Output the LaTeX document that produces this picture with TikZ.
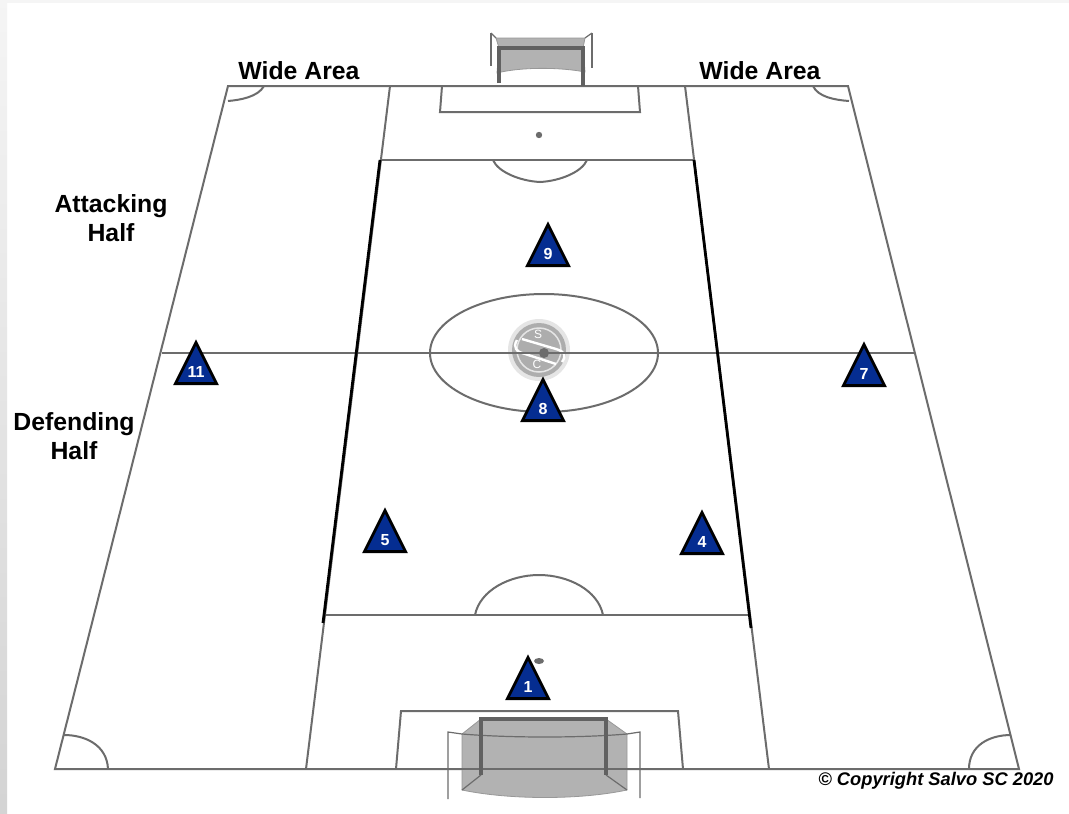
\documentclass[tikz,border=0pt]{standalone}
\usepackage{fontspec}
\setmainfont{Liberation Sans}
\usetikzlibrary{calc,shapes.geometric}
\definecolor{lineGray}{RGB}{108,108,108}
\definecolor{netGray}{RGB}{178,178,178}
\definecolor{playerBlue}{RGB}{5,45,145}
\begin{document}
\begin{tikzpicture}[
    x=1pt, y=-1pt,
    pitch/.style={draw=lineGray, line width=2pt},
    thin line/.style={draw=lineGray, line width=1.2pt},
    zone/.style={draw=black, line width=2.8pt},
    post/.style={draw=lineGray!90!black, line width=3.2pt},
    net/.style={fill=netGray, draw=lineGray!70, line width=.8pt},
    label/.style={font=\fontsize{24.8}{29.5}\selectfont\bfseries, align=center, inner sep=0pt},
    player/.style={isosceles triangle, isosceles triangle stretches, shape border rotate=90, anchor=south, draw=black, line width=2.8pt, fill=playerBlue, minimum width=41pt, minimum height=41pt, inner sep=0pt},
    num/.style={text=white, font=\fontsize{16}{16}\selectfont\bfseries, inner sep=0pt}
  ]
    \useasboundingbox (0,0) rectangle (1069,814);
    \fill[white] (0,0) rectangle (1069,814);
    \shade[top color=black!4, bottom color=black!17] (0,0) rectangle (7,814);
    \fill[black!4] (0,0) rectangle (1069,3);
    % pitch outline and lines
    \draw[pitch] (228,86) -- (848,86) -- (1019,769) -- (55,769) -- cycle;
    \draw[pitch] (390,86) -- (306,769);
    \draw[pitch] (685,86) -- (769,769);
    \draw[pitch] (380,160) -- (694,160);
    \draw[pitch] (323,615) -- (750,615);
    \draw[pitch] (162,353) -- (914,353);
    % penalty areas
    \draw[pitch] (442,86) -- (440,112) -- (640,112) -- (638,86);
    \draw[pitch] (396,769) -- (401,711) -- (678,711) -- (683,769);
    % arcs and circle
    \draw[pitch] (493,160) .. controls (498,172) and (520,181) .. (540,182) .. controls (560,181) and (582,172) .. (587,160);
    \draw[pitch] (475,615) .. controls (480,590) and (510,575) .. (539,575) .. controls (568,575) and (598,590) .. (603,615);
    \draw[pitch] (544,353) ellipse [x radius=114, y radius=59];
    % corners
    \draw[pitch] (228,101) .. controls (240,100) and (258,97) .. (264,86);
    \draw[pitch] (849,101) .. controls (835,100) and (818,97) .. (813,86);
    \draw[pitch] (64,735) .. controls (85,735) and (107,745) .. (108,769);
    \draw[pitch] (1011,735) .. controls (990,735) and (969,745) .. (969,769);
    % spots
    \fill[lineGray] (539,135) circle (3.2);
    \fill[lineGray] (539,661) ellipse [x radius=5, y radius=3];
    % top goal
    \path[net] (496,38) -- (585,38) -- (583,48) -- (585,72) .. controls (560,67) and (520,67) .. (497,73) -- (499,48) -- cycle;
    \draw[thin line] (491,33) -- (491,66);
    \draw[thin line] (491,33) -- (496,38);
    \draw[thin line] (592,33) -- (592,68);
    \draw[thin line] (592,33) -- (585,38);
    \draw[post] (499,83) -- (499,48) -- (583,48) -- (583,86);
    % bottom goal
    \path[net] (481,719) -- (606,719) -- (627,734) -- (627,790) .. controls (580,800) and (510,800) .. (462,790) -- (462,734) -- cycle;
    \draw[thin line] (448,799) -- (448,732) -- (462,734) .. controls (510,738) and (580,738) .. (627,734) -- (640,732) -- (640,798);
    \draw[thin line] (481,775) -- (462,790);
    \draw[thin line] (606,775) -- (627,790);
    \draw[pitch] (396,769) -- (683,769);
    \draw[post] (481,775) -- (481,719) -- (606,719) -- (606,775);
    % thick zone lines
    \draw[zone] (380,160) -- (323,623);
    \draw[zone] (694,160) -- (751,628);
    % crest
    \node[circle, fill=black!10, minimum size=62pt, inner sep=0pt] (crestRing) at (539,350) {};
    \node[circle, fill=black!32, minimum size=54pt, inner sep=0pt] (crest) at (539,350) {};
    \draw[black!10, line width=1.5pt] (539,350) circle (22);
    \draw[white, line width=2.4pt] (522,339) -- (556,349) .. controls (566,352) and (566,356) .. (562,362);
    \draw[white, line width=2.4pt] (517,340) .. controls (512,348) and (518,352) .. (522,353) -- (556,364);
    \node[text=white, font=\fontsize{12}{12}\selectfont, inner sep=0pt] (crestS) at (538,334) {S};
    \node[text=white, font=\fontsize{12}{12}\selectfont, inner sep=0pt] (crestC) at (537,364) {C};
    \draw[lineGray, line width=2pt] (505,353) -- (575,353);
    \fill[lineGray] (544,353) circle (5);
    % players
    \node[player] (p9) at (548,267) {};
    \node[player] (p11) at (196,385) {};
    \node[player] (p7) at (864,387) {};
    \node[player] (p8) at (543,422) {};
    \node[player] (p5) at (385,553) {};
    \node[player] (p4) at (702,555) {};
    \node[player] (p1) at (528,700) {};
    \node[num] at ($(p9.south)+(0,-13)$) {9};
    \node[num] at ($(p11.south)+(0,-13)$) {11};
    \node[num] at ($(p7.south)+(0,-13)$) {7};
    \node[num] at ($(p8.south)+(0,-13)$) {8};
    \node[num] at ($(p5.south)+(0,-13)$) {5};
    \node[num] at ($(p4.south)+(0,-13)$) {4};
    \node[num] at ($(p1.south)+(0,-13)$) {1};
    % labels
    \node[label] (wideL) at (299,71) {Wide Area};
    \node[label] (wideR) at (760,71) {Wide Area};
    \node[label] (attack) at (111,218) {Attacking\\Half};
    \node[label] (defend) at (74,436) {Defending\\Half};
    \node[font=\fontsize{18.3}{18.3}\selectfont\bfseries\itshape, inner sep=0pt] (copy) at (936,781) {© Copyright Salvo SC 2020};
  \end{tikzpicture}
\end{document}
